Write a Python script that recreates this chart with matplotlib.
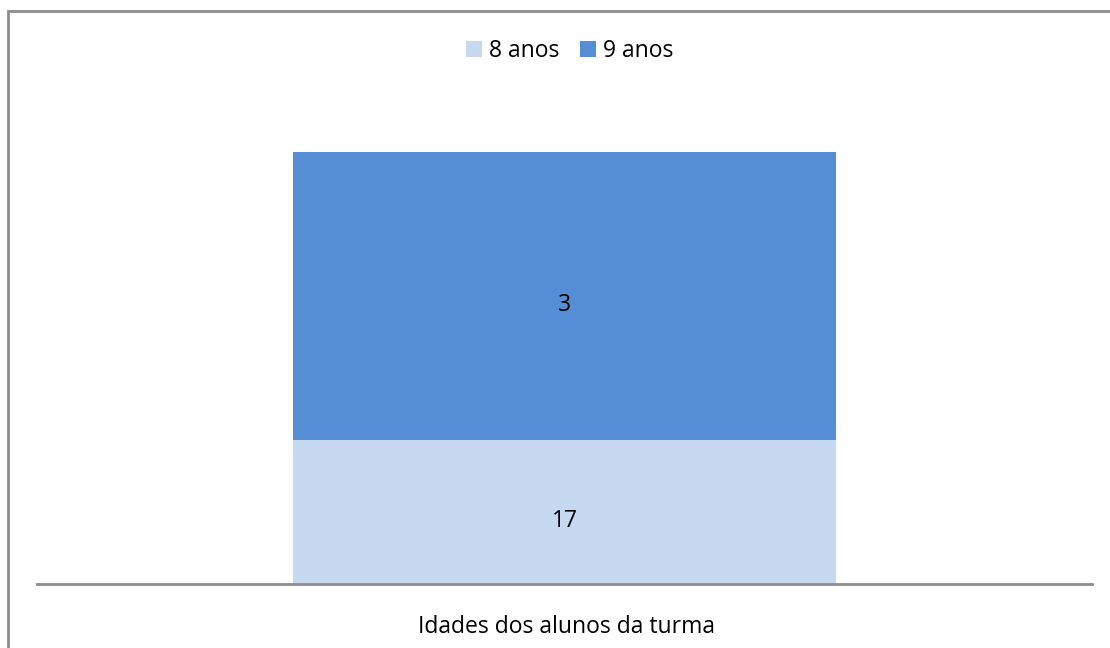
import matplotlib
matplotlib.use("Agg")
import matplotlib.pyplot as plt
from matplotlib.patches import Rectangle

plt.rcParams['font.family'] = ['Open Sans', 'DejaVu Sans']

category = ["Idades dos alunos da turma"]
series_names = ["8 anos", "9 anos"]
values_8 = [17]
values_9 = [3]
colors = ["#C6D9F1", "#558ED5"]

W, H = 1110, 648
fig = plt.figure(figsize=(W / 100, H / 100), dpi=100)

# outer chart frame (cut off at right and bottom like the reference)
fig.patches.append(Rectangle((8 / W, -0.1), 1.2, 1 - 11 / H + 0.1,
                             transform=fig.transFigure, fill=False,
                             edgecolor="#8c8c8c", linewidth=2))

ax = fig.add_axes([37 / W, 1 - 584 / H, (1092 - 37) / W, (584 - 152) / H])

x = [0]
b1 = ax.bar(x, values_8, width=0.515, color=colors[0], label=series_names[0], bottom=0)
b2 = ax.bar(x, values_9, width=0.515, bottom=values_8, color=colors[1], label=series_names[1])

ax.set_ylim(15.5, 20)
ax.set_xlim(-0.5, 0.5)

fs = 16.5
for v in values_8:
    ax.annotate(str(v), (0, (15.5 + v) / 2), xytext=(0, -4), textcoords="offset points",
                ha="center", va="center_baseline", fontsize=fs, color="black")
for v, bottom in zip(values_9, values_8):
    ax.annotate(str(v), (0, bottom + v / 2), xytext=(0, -4), textcoords="offset points",
                ha="center", va="center_baseline", fontsize=fs, color="black")

for s in ["top", "right", "left"]:
    ax.spines[s].set_visible(False)
ax.spines["bottom"].set_color("#8c8c8c")
ax.spines["bottom"].set_linewidth(2)
ax.set_yticks([])
ax.set_xticks([])

fig.text(566 / W, 1 - 627 / H, category[0], ha="center", va="center", fontsize=fs)

fig.legend(handles=[b1, b2], labels=series_names, loc="center",
           bbox_to_anchor=(570 / W, 1 - 51 / H), ncol=2, frameon=False,
           fontsize=fs, handlelength=0.7, handleheight=0.7,
           handletextpad=0.3, columnspacing=0.9)

fig.savefig("out.png", dpi=100)
